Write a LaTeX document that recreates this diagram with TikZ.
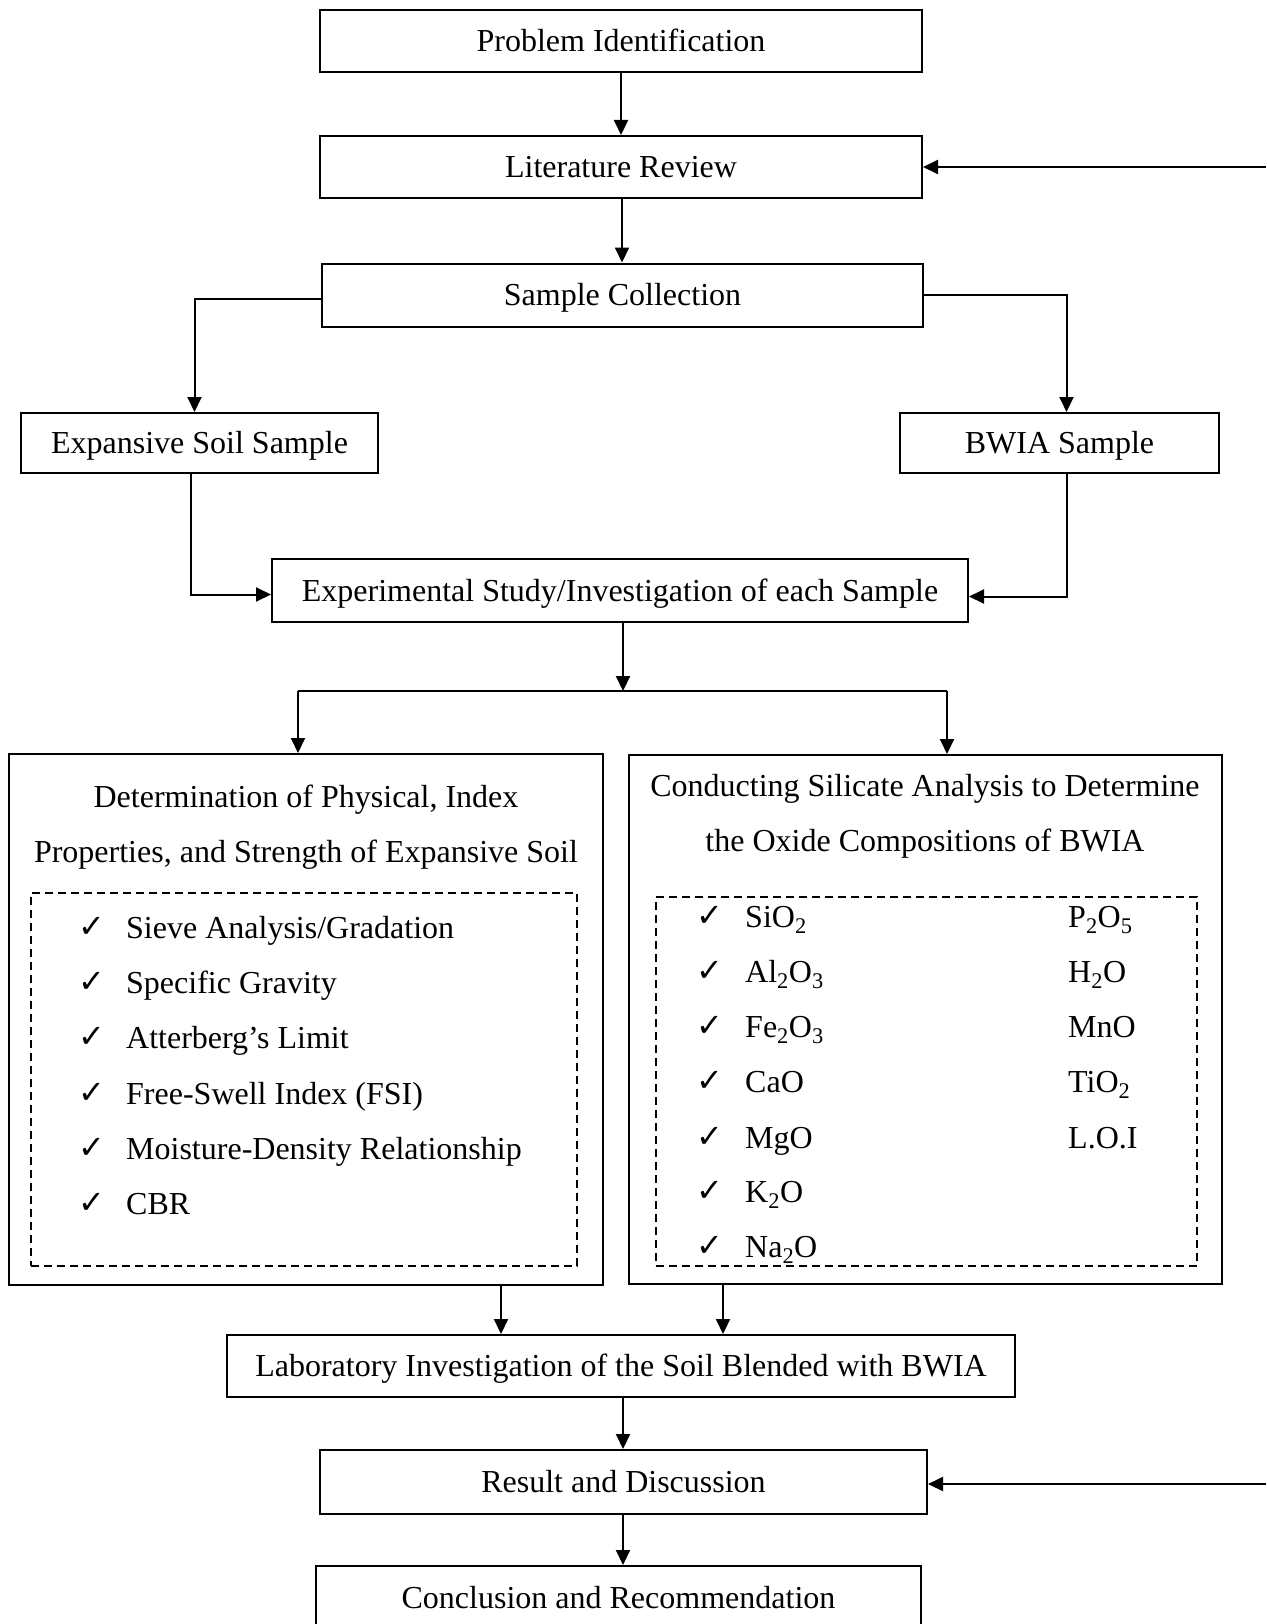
\documentclass[tikz,border=0pt]{standalone}
\usepackage{fontspec}
\setmainfont{Liberation Serif}
\newfontfamily\chkfont{DejaVu Sans}
\usetikzlibrary{arrows.meta,calc}
\newcommand{\sbs}[1]{\textsubscript{#1}}
\newcommand{\ck}{{\chkfont\bfseries\fontsize{32}{34}\selectfont ✓}}
\begin{document}
\begin{tikzpicture}[x=1pt,y=-1pt,
  every node/.style={font=\fontsize{32}{38}\selectfont, inner sep=0pt},
  box/.style={draw, line width=2pt, text height=24pt, text depth=3pt},
  big/.style={draw, line width=2pt},
  dbox/.style={draw, line width=1.6pt, dash pattern=on 8pt off 5pt},
  arr/.style={line width=2pt, -{Triangle[length=15pt,width=14pt]}},
  ln/.style={line width=2pt},
  item/.style={anchor=west, text height=7pt, text depth=2pt},
  chk/.style={anchor=center}]
\clip (0,0) rectangle (1266,1624);
\useasboundingbox (0,0) rectangle (1266,1624);
\fill[white] (0,0) rectangle (1266,1624);

\node[box, minimum width=602pt, minimum height=62pt] (pi) at (621,41) {Problem Identification};
\node[box, minimum width=602pt, minimum height=62pt] (lr) at (621,167) {Literature Review};
\node[box, minimum width=601pt, minimum height=63pt] (sc) at (622.5,295) {Sample Collection};
\node[box, minimum width=357pt, minimum height=60pt] (es) at (199.5,443) {Expansive Soil Sample};
\node[box, minimum width=319pt, minimum height=60pt] (bw) at (1059.5,443) {BWIA Sample};
\node[box, minimum width=696pt, minimum height=63pt] (ex) at (620,590.5) {Experimental Study/Investigation of each Sample};

\node[big, minimum width=594pt, minimum height=531pt] (lb) at (306,1019.5) {};
\node[big, minimum width=593pt, minimum height=529pt] (rb) at (925.5,1019.5) {};
\node (lt1) at (306,800) {Determination of Physical, Index};
\node (lt2) at (306,855) {Properties, and Strength of Expansive Soil};
\node (rt1) at (925,789) {Conducting Silicate Analysis to Determine};
\node (rt2) at (925,844) {the Oxide Compositions of BWIA};

\node[dbox, minimum width=546pt, minimum height=373pt] (ld) at (304,1079.5) {};
\node[dbox, minimum width=541pt, minimum height=369pt] (rd) at (926.5,1081.5) {};

% left items
\node[chk] (lc1) at (92,927) {\ck};
\node[item] (li1) at (126,936) {Sieve Analysis/Gradation};
\node[chk] (lc2) at (92,982) {\ck};
\node[item] (li2) at (126,991) {Specific Gravity};
\node[chk] (lc3) at (92,1037) {\ck};
\node[item] (li3) at (126,1046) {Atterberg’s Limit};
\node[chk] (lc4) at (92,1093) {\ck};
\node[item] (li4) at (126,1102) {Free-Swell Index (FSI)};
\node[chk] (lc5) at (92,1148) {\ck};
\node[item] (li5) at (126,1157) {Moisture-Density Relationship};
\node[chk] (lc6) at (92,1203) {\ck};
\node[item] (li6) at (126,1212) {CBR};

% right items
\node[chk] (rc1) at (710,916) {\ck};
\node[item] (ri1) at (745,925) {SiO\sbs{2}};
\node[chk] (rc2) at (710,971) {\ck};
\node[item] (ri2) at (745,980) {Al\sbs{2}O\sbs{3}};
\node[chk] (rc3) at (710,1026) {\ck};
\node[item] (ri3) at (745,1035) {Fe\sbs{2}O\sbs{3}};
\node[chk] (rc4) at (710,1081) {\ck};
\node[item] (ri4) at (745,1090) {CaO};
\node[chk] (rc5) at (710,1137) {\ck};
\node[item] (ri5) at (745,1146) {MgO};
\node[chk] (rc6) at (710,1191) {\ck};
\node[item] (ri6) at (745,1200) {K\sbs{2}O};
\node[chk] (rc7) at (710,1246) {\ck};
\node[item] (ri7) at (745,1255) {Na\sbs{2}O};
\node[item] (rj1) at (1068,925) {P\sbs{2}O\sbs{5}};
\node[item] (rj2) at (1068,980) {H\sbs{2}O};
\node[item] (rj3) at (1068,1035) {MnO};
\node[item] (rj4) at (1068,1090) {TiO\sbs{2}};
\node[item] (rj5) at (1068,1146) {L.O.I};

\node[box, minimum width=788pt, minimum height=62pt] (lab) at (621,1366) {Laboratory Investigation of the Soil Blended with BWIA};
\node[box, minimum width=607pt, minimum height=64pt] (res) at (623.5,1482) {Result and Discussion};
\node[box, minimum width=605pt, minimum height=64pt] (cc) at (618.5,1598) {Conclusion and Recommendation};

% connectors
\coordinate (inlr) at (1266,167);
\coordinate (inres) at (1266,1484);
\draw[arr] (pi.south) -- (lr.north);
\draw[arr] (inlr) -- (inlr -| lr.east);
\draw[arr] ([xshift=1pt]lr.south) -- ([xshift=1pt]lr.south |- sc.north);
\draw[arr] ([yshift=-4pt]sc.west) -| ([xshift=-5pt]es.north);
\draw[arr] (sc.east) -| ([xshift=7pt]bw.north);
\draw[arr] ([xshift=-9pt]es.south) |- ([yshift=-4pt]ex.west);
\draw[arr] ([xshift=7pt]bw.south) |- ([yshift=-6pt]ex.east);
\coordinate (hl) at (298,691);
\coordinate (hr) at (947,691);
\draw[arr] ([xshift=3pt]ex.south) -- ([xshift=3pt]ex.south |- hl);
\draw[ln] (hl) -- (hr);
\draw[arr] (hl) -- (hl |- lb.north);
\draw[arr] (hr) -- (hr |- rb.north);
\coordinate (lbo) at (501,1285);
\coordinate (rbo) at (723,1284);
\draw[arr] (lbo) -- (lbo |- lab.north);
\draw[arr] (rbo) -- (rbo |- lab.north);
\draw[arr] ([xshift=2pt]lab.south) -- ([xshift=2pt]lab.south |- res.north);
\draw[arr] (inres) -- (inres -| res.east);
\draw[arr] ([xshift=-0.5pt]res.south) -- ([xshift=-0.5pt]res.south |- cc.north);
\end{tikzpicture}
\end{document}
